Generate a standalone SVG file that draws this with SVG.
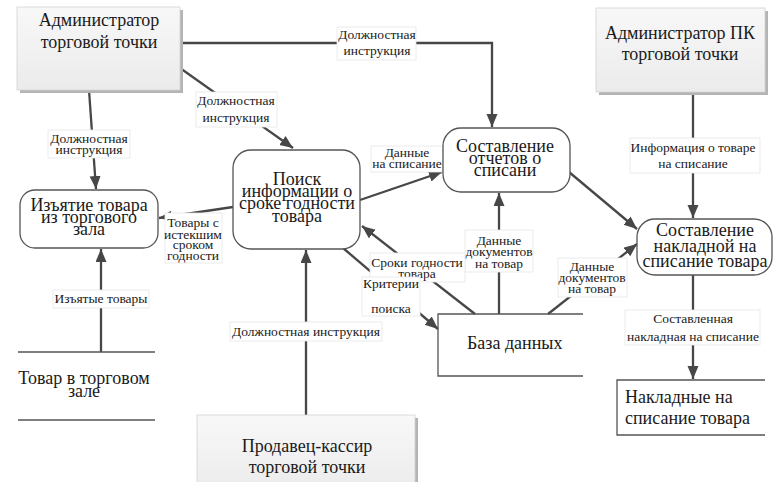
<svg xmlns="http://www.w3.org/2000/svg" width="781" height="482" viewBox="0 0 781 482" font-family="'Liberation Serif', 'Times New Roman', 'DejaVu Serif', serif">
<style>
text{font-family:'Liberation Serif','Times New Roman','DejaVu Serif',serif;fill:#1a1a1a}
.n{font-size:18px;text-anchor:middle}
.nl{font-size:18px;text-anchor:start}
.l{font-size:13.5px;text-anchor:middle}
.c{stroke:#474747;stroke-width:2.3;fill:none;marker-end:url(#ah)}
.lb{fill:#fff;stroke:#e6e6e6;stroke-width:0.8}
.proc{fill:#fff;stroke:#555;stroke-width:1.3}
.ext{fill:url(#eg);stroke:#d2d2d2;stroke-width:0.8}
.sh{fill:#b4b4b4}
.ds{fill:none;stroke:#555;stroke-width:1.3}
</style>
<defs>
<linearGradient id="eg" x1="0" y1="0" x2="0" y2="1">
<stop offset="0" stop-color="#f8f8f8"/>
<stop offset="1" stop-color="#ebebeb"/>
</linearGradient>
<marker id="ah" markerUnits="userSpaceOnUse" markerWidth="14" markerHeight="12" refX="13" refY="5.5" orient="auto">
<path d="M0,0 L13,5.5 L0,11 z" fill="#474747"/>
</marker>
</defs>
<rect width="781" height="482" fill="#fff"/>

<g id="connectors">
<polyline class="c" points="181,43 492,43 492,127"/>
<line class="c" x1="180" y1="68" x2="293" y2="148"/>
<line class="c" x1="89" y1="90" x2="96" y2="189"/>
<line class="c" x1="233" y1="207" x2="159" y2="218"/>
<line class="c" x1="101" y1="352" x2="101" y2="249"/>
<line class="c" x1="360" y1="200" x2="442" y2="172"/>
<line class="c" x1="569" y1="172" x2="637" y2="229"/>
<line class="c" x1="693" y1="92" x2="693" y2="218"/>
<line class="c" x1="499" y1="314" x2="499" y2="193"/>
<line class="c" x1="548" y1="314" x2="637" y2="244"/>
<line class="c" x1="475" y1="314" x2="362" y2="226"/>
<line class="c" x1="343" y1="248" x2="438" y2="329"/>
<line class="c" x1="306" y1="415" x2="306" y2="250"/>
<line class="c" x1="693" y1="275" x2="693" y2="379"/>

<g id="labels">
<rect class="lb" x="337" y="27" width="79" height="33"/>
<text class="l" x="377" y="39">Должностная</text>
<text class="l" x="377" y="55">инструкция</text>

<rect class="lb" x="196" y="92" width="81" height="35"/>
<text class="l" x="236" y="105">Должностная</text>
<text class="l" x="236" y="122">инструкция</text>

<rect class="lb" x="48" y="130" width="82" height="28"/>
<text class="l" x="89" y="143">Должностная</text>
<text class="l" x="89" y="154">инструкция</text>

<rect class="lb" x="53" y="290" width="96" height="18"/>
<text class="l" x="101" y="303">Изъятые товары</text>

<rect class="lb" x="165" y="213" width="57" height="50"/>
<text class="l" x="193" y="227">Товары с</text>
<text class="l" x="193" y="239">истекшим</text>
<text class="l" x="193" y="249">сроком</text>
<text class="l" x="193" y="260">годности</text>

<rect class="lb" x="371" y="146" width="72" height="26"/>
<text class="l" x="407" y="157">Данные</text>
<text class="l" x="407" y="168">на списание</text>

<rect class="lb" x="465" y="230" width="68" height="42"/>
<text class="l" x="499" y="245">Данные</text>
<text class="l" x="499" y="256">документов</text>
<text class="l" x="499" y="268">на товар</text>

<rect class="lb" x="558" y="258" width="69" height="39"/>
<text class="l" x="592" y="271">Данные</text>
<text class="l" x="592" y="282">документов</text>
<text class="l" x="592" y="293">на товар</text>

<rect class="lb" x="370" y="253" width="95" height="29"/>
<text class="l" x="417" y="267">Сроки годности</text>
<text class="l" x="417" y="278">товара</text>

<rect class="lb" x="362" y="277" width="58" height="39"/>
<text class="l" x="391" y="288">Критерии</text>
<text class="l" x="391" y="313">поиска</text>

<rect class="lb" x="230" y="322" width="152" height="19"/>
<text class="l" x="306" y="336">Должностная инструкция</text>

<rect class="lb" x="630" y="138" width="130" height="35"/>
<text class="l" x="693" y="152">Информация о товаре</text>
<text class="l" x="693" y="168">на списание</text>

<rect class="lb" x="625" y="310" width="135" height="35"/>
<text class="l" x="693" y="323">Составленная</text>
<text class="l" x="693" y="341">накладная на списание</text>
</g>
</g>

<g id="admin">
<rect class="sh" x="20" y="10" width="163" height="83"/>
<rect class="ext" x="17" y="7" width="163" height="83"/>
<text class="n" x="99" y="26">Администратор</text>
<text class="n" x="99" y="48">торговой точки</text>
</g>

<g id="admin-pk">
<rect class="sh" x="599" y="11" width="169" height="84"/>
<rect class="ext" x="596" y="8" width="169" height="84"/>
<text class="n" x="680" y="39">Администратор ПК</text>
<text class="n" x="680" y="60">торговой точки</text>
</g>

<g id="seller">
<rect class="sh" x="200" y="418" width="218" height="80"/>
<rect class="ext" x="197" y="415" width="218" height="80"/>
<text class="n" x="307" y="452">Продавец-кассир</text>
<text class="n" x="307" y="473">торговой точки</text>
</g>

<g id="removal">
<rect class="proc" x="20" y="190" width="138" height="58" rx="15"/>
<text class="n" x="89" y="211">Изъятие товара</text>
<text class="n" x="89" y="223">из торгового</text>
<text class="n" x="89" y="235">зала</text>
</g>

<g id="search">
<rect class="proc" x="233" y="150" width="127" height="99" rx="18"/>
<text class="n" x="297" y="185">Поиск</text>
<text class="n" x="297" y="197">информации о</text>
<text class="n" x="297" y="209">сроке годности</text>
<text class="n" x="297" y="222">товара</text>
</g>

<g id="reports">
<rect class="proc" x="443" y="128" width="127" height="64" rx="18"/>
<text class="n" x="505" y="152">Составление</text>
<text class="n" x="505" y="164">отчетов о</text>
<text class="n" x="505" y="176">списани</text>
</g>

<g id="invoice">
<rect class="proc" x="637" y="219" width="135" height="56" rx="18"/>
<text class="n" x="705" y="236">Составление</text>
<text class="n" x="705" y="252">накладной на</text>
<text class="n" x="705" y="267">списание товара</text>
</g>

<g id="database">
<path class="ds" d="M583,314 H438 V376 H583"/>
<text class="nl" x="467" y="349">База данных</text>
</g>

<g id="invoices-store">
<path class="ds" d="M765,380 H617 V435 H765"/>
<text class="nl" x="625" y="403">Накладные на</text>
<text class="nl" x="625" y="424">списание товара</text>
</g>

<g id="goods-store">
<line class="ds" x1="18" y1="352" x2="155" y2="352"/>
<line class="ds" x1="18" y1="420" x2="155" y2="420"/>
<text class="n" x="84" y="384">Товар в торговом</text>
<text class="n" x="84" y="397">зале</text>
</g>
</svg>
